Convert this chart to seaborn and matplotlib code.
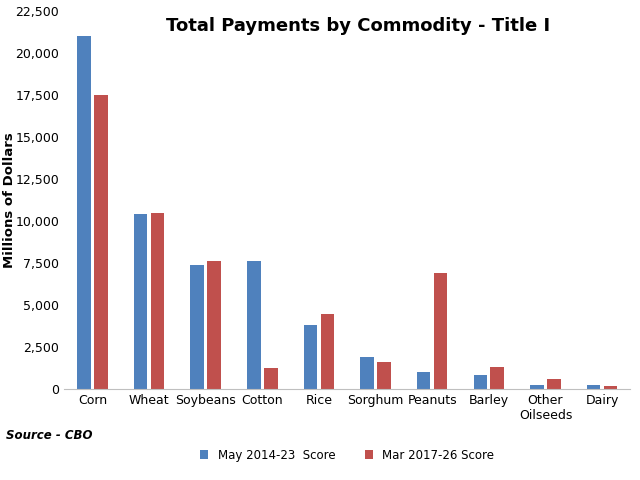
import matplotlib
matplotlib.use("Agg")
import matplotlib.pyplot as plt
import seaborn as sns
import pandas as pd

categories = ["Corn", "Wheat", "Soybeans", "Cotton", "Rice", "Sorghum", "Peanuts", "Barley", "Other\nOilseeds", "Dairy"]
may_2014 = [21000, 10400, 7400, 7600, 3800, 1900, 1000, 850, 200, 250]
mar_2017 = [17500, 10500, 7600, 1250, 4450, 1600, 6900, 1300, 600, 150]
series = ["May 2014-23  Score", "Mar 2017-26 Score"]

df = pd.DataFrame({
    "cat": categories * 2,
    "val": may_2014 + mar_2017,
    "series": [series[0]] * len(categories) + [series[1]] * len(categories),
})

fig = plt.figure(figsize=(6.4, 4.8), dpi=100)
ax = fig.add_axes([0.1, 0.19, 0.885, 0.787])
sns.barplot(data=df, x="cat", y="val", hue="series", palette=["#4F81BD", "#C0504D"],
            width=0.6, gap=0.2, ax=ax, saturation=1)
ax.set_ylim(0, 22500)
ax.set_yticks(range(0, 22501, 2500))
ax.set_yticklabels([f"{v:,}" for v in range(0, 22501, 2500)], fontsize=9)
ax.tick_params(axis="x", labelsize=9, length=0)
ax.tick_params(axis="y", length=0)
ax.set_xlabel("")
ax.set_ylabel("Millions of Dollars", fontsize=9.5, fontweight="bold")
ax.yaxis.set_label_coords(-0.085, 0.5)
for s in ["top", "right", "left"]:
    ax.spines[s].set_visible(False)
ax.spines["bottom"].set_color("#BFBFBF")
fig.text(0.56, 0.935, "Total Payments by Commodity - Title I", ha="center", fontsize=13, fontweight="bold")
fig.text(0.01, 0.085, "Source - CBO", fontsize=8.5, fontstyle="italic", fontweight="bold")
ax.legend(loc="upper center", bbox_to_anchor=(0.5, -0.13), ncol=2, frameon=False, fontsize=8.5,
          handlelength=0.7, handleheight=0.7, columnspacing=2.5)
fig.savefig("out.png", dpi=100)
